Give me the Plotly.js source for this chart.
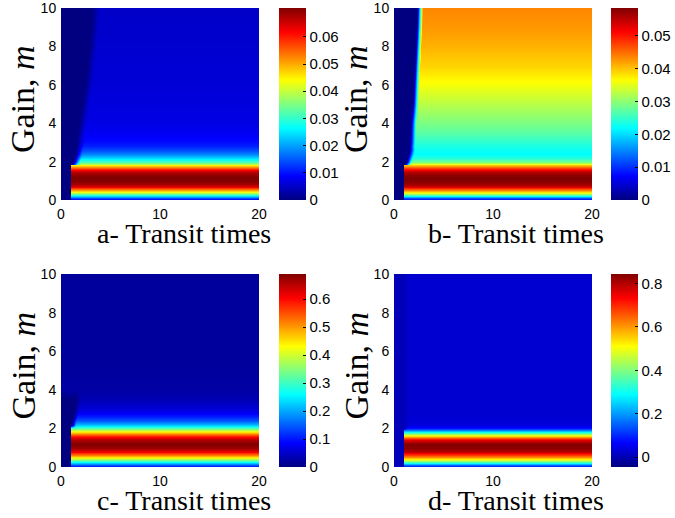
<!DOCTYPE html>
<html>
<head>
<meta charset="utf-8">
<script src="https://cdn.plot.ly/plotly-3.0.1.min.js"></script>
<style>
html,body{margin:0;padding:0;background:#fff;}
#chart{width:675px;height:518px;}
</style>
</head>
<body>
<div id="chart"></div>
<script>
// Gain m (rows) and transit time (columns) sample positions
const mRows = [0, 0.1, 0.2, 0.3, 0.4, 0.5, 0.6, 0.7, 0.8, 1.0, 1.2, 1.4, 1.5, 1.6, 1.7, 1.8, 1.9, 2.0, 2.2, 2.4, 2.6, 2.8, 3.0, 3.5, 4, 5, 6, 7, 8, 9, 10];
const xCols = [0, 0.5, 0.9, 1.0, 1.1, 1.2, 1.3, 1.4, 1.5, 1.6, 1.7, 1.8, 1.9, 2.0, 2.1, 2.2, 2.3, 2.4, 2.5, 2.6, 2.7, 2.8, 2.9, 3.0, 3.1, 3.2, 3.3, 3.4, 3.5, 3.6, 3.7, 3.8, 3.9, 4.0, 4.2, 4.5, 5, 10, 15, 20];

// Panel a: steady value vs m, transit time where it starts, value before it, edge softness
const profA = [0.006, 0.014, 0.024, 0.034, 0.043, 0.051, 0.058, 0.063, 0.067, 0.0703, 0.0706, 0.068, 0.065, 0.059, 0.052, 0.045, 0.038, 0.032, 0.024, 0.018, 0.014, 0.011, 0.0095, 0.008, 0.007, 0.0065, 0.006, 0.0058, 0.0055, 0.0053, 0.005];
const edgeA = [1, 1, 1, 1, 1, 1, 1, 1, 1, 1, 1, 1, 1, 1, 1, 1, 1.1, 1.2, 1.3, 1.4, 1.45, 1.5, 1.55, 1.65, 1.8, 2.1, 2.4, 2.6, 2.8, 3.0, 3.1];
const leftA = 0, fadeA = 0.7;

// Panel b
const profB = [0.006, 0.012, 0.022, 0.031, 0.038, 0.044, 0.049, 0.053, 0.056, 0.0582, 0.0585, 0.0565, 0.054, 0.05, 0.045, 0.04, 0.035, 0.029, 0.024, 0.022, 0.0225, 0.0235, 0.0245, 0.027, 0.029, 0.0325, 0.036, 0.039, 0.041, 0.0425, 0.0435];
const edgeB = [1, 1, 1, 1, 1, 1, 1, 1, 1, 1, 1, 1, 1, 1, 1, 1, 1.1, 1.2, 1.3, 1.4, 1.5, 1.5, 1.55, 1.6, 1.65, 1.85, 1.95, 2.05, 2.15, 2.25, 2.3];
const leftB = 0, fadeB = 0.55;

// Panel c
const profC = [0.08, 0.14, 0.22, 0.3, 0.38, 0.45, 0.52, 0.57, 0.61, 0.67, 0.69, 0.66, 0.63, 0.58, 0.52, 0.45, 0.38, 0.31, 0.22, 0.15, 0.11, 0.08, 0.06, 0.035, 0.025, 0.02, 0.02, 0.02, 0.02, 0.02, 0.02];
const edgeC = [1, 1, 1, 1, 1, 1, 1, 1, 1, 1, 1, 1, 1, 1, 1, 1, 1, 1, 1.05, 1.1, 1.2, 1.3, 1.4, 1.5, 0, 0, 0, 0, 0, 0, 0];
const leftC = 0, fadeC = 0.4;

// Panel d
const profD = [0.06, 0.15, 0.3, 0.42, 0.52, 0.61, 0.68, 0.74, 0.79, 0.835, 0.84, 0.76, 0.66, 0.54, 0.42, 0.3, 0.17, 0.08, 0.035, 0.03, 0.028, 0.026, 0.025, 0.025, 0.025, 0.025, 0.025, 0.025, 0.025, 0.025, 0.025];
const edgeD = [1, 1, 1, 1, 1, 1, 1, 1, 1, 1, 1, 1, 1, 1, 1, 1, 1, 1.1, 1.1, 1.1, 1.1, 1.1, 1.1, 1.1, 1.1, 1.1, 1.1, 1.1, 1.1, 1.1, 1.1];
const leftD = 0.005, fadeD = 0.2;

// Colour ranges and colourbar ticks
const rangeA = [0, 0.0706], ticksA = [0, 0.01, 0.02, 0.03, 0.04, 0.05, 0.06], labelsA = ['0', '0.01', '0.02', '0.03', '0.04', '0.05', '0.06'];
const rangeB = [0, 0.0585], ticksB = [0, 0.01, 0.02, 0.03, 0.04, 0.05], labelsB = ['0', '0.01', '0.02', '0.03', '0.04', '0.05'];
const rangeC = [0, 0.69], ticksC = [0, 0.1, 0.2, 0.3, 0.4, 0.5, 0.6], labelsC = ['0', '0.1', '0.2', '0.3', '0.4', '0.5', '0.6'];
const rangeD = [-0.045, 0.843], ticksD = [0, 0.2, 0.4, 0.6, 0.8], labelsD = ['0', '0.2', '0.4', '0.6', '0.8'];

const xTicks = [0, 10, 20];
const yTicks = [0, 2, 4, 6, 8, 10];
const xTitles = ['a- Transit times', 'b- Transit times', 'c- Transit times', 'd- Transit times'];
const yTitle = 'Gain, <i>m</i>';

const jet = [[0, '#000080'], [0.125, '#0000ff'], [0.375, '#00ffff'], [0.625, '#ffff00'], [0.875, '#ff0000'], [1, '#800000']];

function buildZ(profile, edge, leftVal, fade) {
  return mRows.map((m, i) => xCols.map(x => {
    if (edge[i] > 1) {
      const t = Math.max(0, Math.min(1, (x - edge[i]) / fade));
      return leftVal + (profile[i] - leftVal) * t;
    }
    return x >= edge[i] ? profile[i] : leftVal;
  }));
}

const W = 675, H = 518;
const px = v => v / W, py = v => 1 - v / H;
// pixel boxes: plot area and colourbar left edge
const boxes = [
  {l: 61, r: 259, t: 8, b: 200, cb: 279},
  {l: 394, r: 592, t: 8, b: 200, cb: 611},
  {l: 61, r: 259, t: 274, b: 467, cb: 279},
  {l: 394, r: 592, t: 274, b: 467, cb: 611}
];
const panels = [
  {z: buildZ(profA, edgeA, leftA, fadeA), range: rangeA, ticks: ticksA, labels: labelsA},
  {z: buildZ(profB, edgeB, leftB, fadeB), range: rangeB, ticks: ticksB, labels: labelsB},
  {z: buildZ(profC, edgeC, leftC, fadeC), range: rangeC, ticks: ticksC, labels: labelsC},
  {z: buildZ(profD, edgeD, leftD, fadeD), range: rangeD, ticks: ticksD, labels: labelsD}
];

const sans = 'Liberation Sans, Arial, Helvetica, sans-serif';
const serif = 'Liberation Serif, Times New Roman, serif';

const data = [];
const layout = {
  width: W, height: H,
  margin: {l: 0, r: 0, t: 0, b: 0},
  paper_bgcolor: '#fff', plot_bgcolor: '#fff',
  showlegend: false,
  font: {family: sans, size: 15, color: '#000'},
  annotations: []
};

panels.forEach((p, k) => {
  const bx = boxes[k];
  const sfx = k === 0 ? '' : String(k + 1);
  data.push({
    type: 'heatmap',
    x: xCols, y: mRows, z: p.z,
    xaxis: 'x' + sfx, yaxis: 'y' + sfx,
    colorscale: jet, zmin: p.range[0], zmax: p.range[1],
    zsmooth: 'best',
    hoverinfo: 'skip',
    colorbar: {
      x: px(bx.cb), xanchor: 'left', xpad: 0, ypad: 0,
      y: py(bx.t), yanchor: 'top',
      len: (bx.b - bx.t) / H, lenmode: 'fraction',
      thickness: 27, thicknessmode: 'pixels',
      outlinewidth: 0,
      tickmode: 'array', tickvals: p.ticks, ticktext: p.labels,
      ticks: 'inside', ticklen: 3, tickcolor: '#000',
      tickfont: {family: sans, size: 15, color: '#000'}
    }
  });
  layout['xaxis' + sfx] = {
    domain: [px(bx.l), px(bx.r)], anchor: 'y' + sfx,
    range: [0, 20], tickmode: 'array', tickvals: xTicks,
    showgrid: false, zeroline: false, showline: false,
    ticks: 'outside', ticklen: 1, tickcolor: 'rgba(0,0,0,0)',
    ticklabeloverflow: 'allow',
    tickfont: {family: sans, size: 14, color: '#000'}, fixedrange: true
  };
  layout['yaxis' + sfx] = {
    domain: [py(bx.b), py(bx.t)], anchor: 'x' + sfx,
    range: [0, 10], tickmode: 'array', tickvals: yTicks,
    showgrid: false, zeroline: false, showline: false,
    ticks: 'outside', ticklen: 1, tickcolor: 'rgba(0,0,0,0)',
    ticklabeloverflow: 'allow',
    tickfont: {family: sans, size: 14, color: '#000'}, fixedrange: true
  };
  layout.annotations.push({
    text: xTitles[k], xref: 'paper', yref: 'paper',
    x: px((bx.l + bx.cb + 27) / 2), y: py(bx.b + 33),
    xanchor: 'center', yanchor: 'middle', showarrow: false, borderpad: 0,
    font: {family: serif, size: 28, color: '#000'}
  });
  layout.annotations.push({
    text: yTitle, xref: 'paper', yref: 'paper',
    x: px(bx.l - 38), y: py((bx.t + bx.b) / 2 - 5),
    xanchor: 'center', yanchor: 'middle', textangle: -90, showarrow: false, borderpad: 0,
    font: {family: serif, size: 34, color: '#000'}
  });
});

Plotly.newPlot('chart', data, layout, {displayModeBar: false, staticPlot: true});
</script>
</body>
</html>
